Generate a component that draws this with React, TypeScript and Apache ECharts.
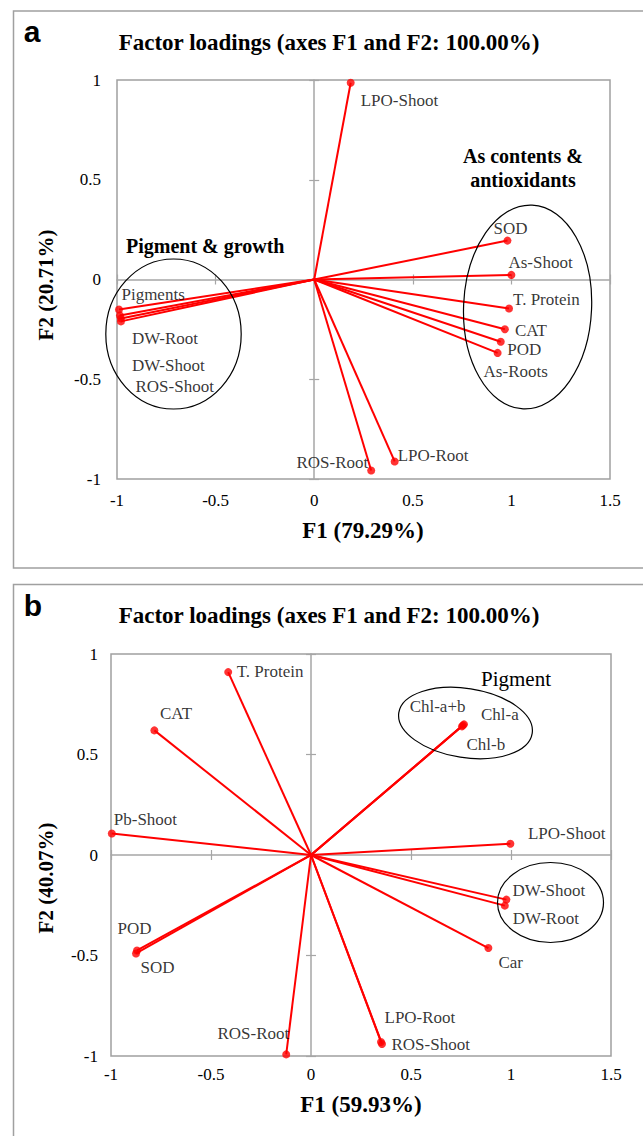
import React, { useEffect, useRef } from "react";
import * as echarts from "echarts";

// ---- Panel a data ----
const varsA = ["LPO-Shoot", "SOD", "As-Shoot", "T. Protein", "CAT", "POD", "As-Roots", "LPO-Root", "ROS-Root", "Pigments", "DW-Root", "DW-Shoot", "ROS-Shoot"];
const f1A = [0.185, 0.98, 1.0, 0.988, 0.967, 0.946, 0.93, 0.408, 0.289, -0.99, -0.985, -0.98, -0.98];
const f2A = [0.986, 0.195, 0.023, -0.145, -0.249, -0.312, -0.368, -0.912, -0.957, -0.15, -0.18, -0.195, -0.21];

// ---- Panel b data ----
const varsB = ["T. Protein", "CAT", "Pb-Shoot", "LPO-Shoot", "Chl-a", "Chl-b", "Chl-a+b", "DW-Shoot", "DW-Root", "Car", "POD", "SOD", "ROS-Root", "LPO-Root", "ROS-Shoot"];
const f1B = [-0.414, -0.783, -0.996, 0.997, 0.76, 0.755, 0.765, 0.977, 0.969, 0.887, -0.87, -0.875, -0.124, 0.35, 0.355];
const f2B = [0.91, 0.62, 0.107, 0.056, 0.645, 0.64, 0.65, -0.222, -0.252, -0.463, -0.475, -0.49, -0.992, -0.93, -0.94];

// axis ranges / tick settings
const xMin = -1;
const xMax = 1.5;
const yMin = -1;
const yMax = 1;
const tickStep = 0.5;

const titleText = "Factor loadings (axes F1 and F2: 100.00%)";
const xNameA = "F1 (79.29%)";
const yNameA = "F2 (20.71%)";
const xNameB = "F1 (59.93%)";
const yNameB = "F2 (40.07%)";

// label placement (pixel offsets from point, alignment) – styling only
const labelPosA: [number, number, string][] = [
  [10, 18, "left"], [-14, -12, "left"], [-3, -12, "left"], [4, -9, "left"], [10, 1.5, "left"],
  [6.5, 7.5, "left"], [-14, 19, "left"], [3, -6, "left"], [-3, -8, "right"], [2.5, -14.5, "left"],
  [12, 23.5, "left"], [11, 47, "left"], [14.5, 65, "left"],
];
const labelPosB: [number, number, string][] = [
  [8.5, -0.5, "left"], [5.5, -17, "left"], [2, -14, "left"], [17.5, -10.5, "left"], [18, -10.5, "left"],
  [4.5, 18.5, "left"], [1.5, -17.5, "right"], [6, -9, "left"], [8, 13, "left"], [10, 14.5, "left"],
  [-19.5, -22, "left"], [4.5, 14, "left"], [3, -21, "right"], [3.5, -24.5, "left"], [9.5, 0.5, "left"],
];

const SERIF = "Liberation Serif, Times New Roman, serif";
const SANS = "Liberation Sans, Arial, sans-serif";
const RED = "#FF0000";
const AXIS_GRAY = "#A6A6A6";

function makeAxes(kind: "x" | "y", g: number, margin: number) {
  const common = { type: "value", gridIndex: g, min: kind === "x" ? xMin : yMin, max: kind === "x" ? xMax : yMax, interval: tickStep, splitLine: { show: false } };
  const pos = kind === "x" ? "bottom" : "left";
  return [
    {
      ...common,
      position: pos,
      axisLine: { show: false, onZero: false },
      axisTick: { show: false },
      axisLabel: { margin, fontSize: 17, fontFamily: SERIF, color: "#000" },
    },
    {
      ...common,
      position: pos,
      axisLine: { show: true, onZero: true, lineStyle: { color: AXIS_GRAY, width: 1.5 } },
      axisTick: { show: true, inside: true, length: 5, lineStyle: { color: AXIS_GRAY, width: 1.2 } },
      axisLabel: { show: false },
    },
    {
      ...common,
      position: pos,
      axisLine: { show: false, onZero: true },
      axisTick: { show: true, inside: false, length: 5, lineStyle: { color: AXIS_GRAY, width: 1.2 } },
      axisLabel: { show: false },
    },
  ];
}

function panelSeries(vars: string[], f1: number[], f2: number[], pos: [number, number, string][], axisIdx: number) {
  const lines = vars.map((v, i) => ({
    type: "line",
    name: v,
    xAxisIndex: axisIdx,
    yAxisIndex: axisIdx,
    data: [[0, 0], [f1[i], f2[i]]],
    symbol: "none",
    lineStyle: { color: RED, width: 2 },
    silent: true,
    z: 2,
  }));
  const pts = {
    type: "scatter",
    xAxisIndex: axisIdx,
    yAxisIndex: axisIdx,
    symbol: "circle",
    symbolSize: 8,
    itemStyle: { color: RED },
    z: 3,
    data: vars.map((v, i) => ({
      name: v,
      value: [f1[i], f2[i]],
      label: {
        show: true,
        formatter: v,
        position: [4 + pos[i][0], 4 + pos[i][1]],
        align: pos[i][2],
        verticalAlign: "middle",
        fontSize: 17,
        fontFamily: SERIF,
        color: "#000",
      },
    })),
  };
  return [...lines, pts];
}

function txt(text: string, x: number, y: number, size: number, bold: boolean, align = "center", rotation = 0, family = SERIF) {
  return {
    type: "text",
    x,
    y,
    rotation,
    z: 10,
    style: { text, fontSize: size, fontWeight: bold ? "bold" : "normal", fontFamily: family, fill: "#000", align, verticalAlign: "middle" },
  };
}

function ell(cx: number, cy: number, rx: number, ry: number, rotDeg = 0) {
  return {
    type: "ellipse",
    x: cx,
    y: cy,
    rotation: (rotDeg * Math.PI) / 180,
    z: 5,
    shape: { cx: 0, cy: 0, rx, ry },
    style: { fill: "none", stroke: "#000", lineWidth: 1.2 },
  };
}

const option = {
  animation: false,
  backgroundColor: "#fff",
  grid: [
    { left: 117, top: 80, width: 493, height: 399, show: true, borderColor: "#A0A0A0", borderWidth: 1.5, backgroundColor: "transparent" },
    { left: 111, top: 654, width: 500, height: 402, show: true, borderColor: "#A0A0A0", borderWidth: 1.5, backgroundColor: "transparent" },
  ],
  xAxis: [...makeAxes("x", 0, 13), ...makeAxes("x", 1, 10)],
  yAxis: [...makeAxes("y", 0, 16), ...makeAxes("y", 1, 13)],
  series: [...panelSeries(varsA, f1A, f2A, labelPosA, 0), ...panelSeries(varsB, f1B, f2B, labelPosB, 3)],
  graphic: [
    { type: "rect", shape: { x: 13.5, y: 11, width: 640, height: 557 }, style: { fill: "none", stroke: "#A0A0A0", lineWidth: 1.5 }, z: 1 },
    { type: "rect", shape: { x: 13.5, y: 584.5, width: 640, height: 560 }, style: { fill: "none", stroke: "#A0A0A0", lineWidth: 1.5 }, z: 1 },
    txt("a", 32, 31, 30, true, "center", 0, SANS),
    txt("b", 33, 605, 30, true, "center", 0, SANS),
    txt(titleText, 329, 42, 23, true),
    txt(titleText, 329, 615, 23, true),
    txt(xNameA, 363, 530, 23, true),
    txt(xNameB, 361, 1104, 23, true),
    txt(yNameA, 46, 285, 21, true, "center", Math.PI / 2),
    txt(yNameB, 46, 878, 21, true, "center", Math.PI / 2),
    txt("Pigment & growth", 126, 246, 20, true, "left"),
    txt("As contents &", 523, 156, 20, true),
    txt("antioxidants", 523, 180, 20, true),
    txt("Pigment", 481, 679, 21, false, "left"),
    ell(173.5, 334, 67.7, 75),
    ell(527.6, 307, 64, 102, -2.5),
    ell(465.5, 723, 67.5, 34.6, -8.8),
    ell(550.5, 902.5, 53, 40),
  ],
};

export default function App() {
  const ref = useRef<HTMLDivElement>(null);
  useEffect(() => {
    if (!ref.current) return;
    const chart = echarts.init(ref.current, null, { renderer: "svg" });
    chart.setOption(option as any);
    return () => chart.dispose();
  }, []);
  return <div ref={ref} style={{ position: "absolute", left: 0, top: 0, width: 643, height: 1136 }} />;
}
